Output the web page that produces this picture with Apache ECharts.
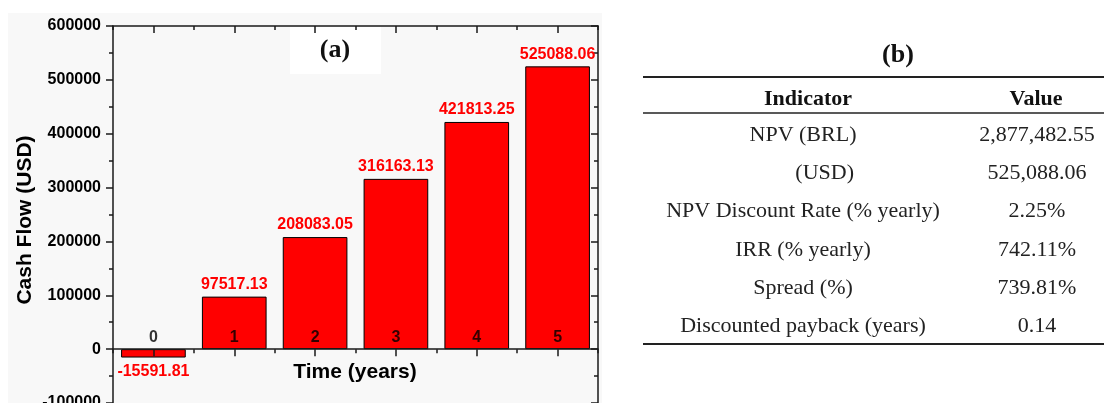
<!DOCTYPE html>
<html>
<head>
<meta charset="utf-8">
<script src="https://cdn.jsdelivr.net/npm/echarts@6/dist/echarts.min.js"></script>
<style>
html,body{margin:0;padding:0;background:#fff;}
#main{width:1104px;height:403px;}
</style>
</head>
<body>
<div id="main"></div>
<script>
// ---- data ----
const categories = ['0', '1', '2', '3', '4', '5'];
const cashFlow = [-15591.81, 97517.13, 208083.05, 316163.13, 421813.25, 525088.06];
const yMin = -100000;
const yMax = 600000;
const yInterval = 100000;
const xAxisTitle = 'Time (years)';
const yAxisTitle = 'Cash Flow (USD)';
const tableHeader = ['Indicator', 'Value'];
const indicators = ['NPV (BRL)', '(USD)', 'NPV Discount Rate (% yearly)', 'IRR (% yearly)', 'Spread (%)', 'Discounted payback (years)'];
const indicatorValues = ['2,877,482.55', '525,088.06', '2.25%', '742.11%', '739.81%', '0.14'];
const panelLabels = ['(a)', '(b)'];

// ---- chart ----
const chart = echarts.init(document.getElementById('main'), null, {renderer: 'canvas'});
const sans = 'Liberation Sans, Arial, sans-serif';
const serif = 'Liberation Serif, Times New Roman, serif';
const axisColor = '#1a1a1a';

function xAxisDef(pos, centered, extra) {
  return Object.assign({
    type: 'category',
    data: categories,
    position: pos,
    boundaryGap: true,
    axisLine: {show: true, onZero: pos === 'bottom', onZeroAxisIndex: 0, lineStyle: {color: axisColor, width: 1.5}},
    axisTick: {show: true, alignWithLabel: centered, inside: pos === 'top', length: centered ? 7 : 4, lineStyle: {color: axisColor, width: 1.5}},
    axisLabel: {show: false},
    splitLine: {show: false},
    z: 3
  }, extra || {});
}

const yCommon = {
  type: 'value', min: yMin, max: yMax, interval: yInterval,
  splitLine: {show: false}
};

const barData = cashFlow.map(v => ({
  value: v,
  label: {position: v < 0 ? 'bottom' : 'top', distance: v < 0 ? 6 : 4}
}));

const graphics = [
  {type: 'rect', shape: {x: 8, y: 13, width: 594, height: 400}, style: {fill: '#f8f8f8'}, z: -10},
  {type: 'rect', shape: {x: 290, y: 27, width: 91, height: 47}, style: {fill: '#ffffff'}, z: -5},
  {type: 'text', x: 335, y: 50, style: {text: panelLabels[0], font: 'bold 26px ' + serif, fill: '#111', align: 'center', verticalAlign: 'middle'}, z: 5},
  {type: 'text', x: 355, y: 372, style: {text: xAxisTitle, font: 'bold 21px ' + sans, fill: '#000', align: 'center', verticalAlign: 'middle'}, z: 5},
  {type: 'text', x: 25, y: 220, rotation: Math.PI / 2, style: {text: yAxisTitle, font: 'bold 21px ' + sans, fill: '#000', align: 'center', verticalAlign: 'middle'}, z: 5},
  {type: 'text', x: 898, y: 55, style: {text: panelLabels[1], font: 'bold 26px ' + serif, fill: '#111', align: 'center', verticalAlign: 'middle'}, z: 5},
  {type: 'line', shape: {x1: 643, y1: 77, x2: 1104, y2: 77}, style: {stroke: '#222', lineWidth: 2}},
  {type: 'line', shape: {x1: 643, y1: 113, x2: 1104, y2: 113}, style: {stroke: '#222', lineWidth: 1.5}},
  {type: 'line', shape: {x1: 643, y1: 344, x2: 1104, y2: 344}, style: {stroke: '#222', lineWidth: 2}},
  {type: 'text', x: 808, y: 99, style: {text: tableHeader[0], font: 'bold 22px ' + serif, fill: '#111', align: 'center', verticalAlign: 'middle'}},
  {type: 'text', x: 1036, y: 99, style: {text: tableHeader[1], font: 'bold 22px ' + serif, fill: '#111', align: 'center', verticalAlign: 'middle'}}
];
const rowY0 = 135, rowStep = 38.3;
indicators.forEach((name, i) => {
  const y = rowY0 + i * rowStep;
  const sub = name.charAt(0) === '(';
  graphics.push({type: 'text', x: sub ? 854 : 803, y: y,
    style: {text: name, font: '22px ' + serif, fill: '#222', align: sub ? 'right' : 'center', verticalAlign: 'middle'}});
  graphics.push({type: 'text', x: 1037, y: y,
    style: {text: indicatorValues[i], font: '22px ' + serif, fill: '#222', align: 'center', verticalAlign: 'middle'}});
});

const option = {
  animation: false,
  backgroundColor: '#ffffff',
  grid: {left: 113, right: 506, top: 26, bottom: 0, containLabel: false, outerBoundsMode: 'none'},
  xAxis: [
    xAxisDef('bottom', true),
    xAxisDef('bottom', false, {axisLine: {show: false, onZero: true, onZeroAxisIndex: 0}}),
    xAxisDef('top', true),
    xAxisDef('top', false, {axisLine: {show: false, onZero: false}})
  ],
  yAxis: [
    Object.assign({}, yCommon, {
      position: 'left',
      axisLine: {show: true, onZero: false, lineStyle: {color: axisColor, width: 1.5}},
      axisTick: {show: true, inside: false, length: 7, lineStyle: {color: axisColor, width: 1.5}},
      minorTick: {show: true, splitNumber: 2, length: 4, lineStyle: {color: axisColor, width: 1.5}},
      axisLabel: {color: '#000', fontFamily: sans, fontWeight: 'bold', fontSize: 16, margin: 12, formatter: v => String(v)}
    }),
    Object.assign({}, yCommon, {
      position: 'right',
      axisLine: {show: true, onZero: false, lineStyle: {color: axisColor, width: 1.5}},
      axisTick: {show: true, inside: true, length: 7, lineStyle: {color: axisColor, width: 1.5}},
      minorTick: {show: true, splitNumber: 2, length: 4, lineStyle: {color: axisColor, width: 1.5}},
      axisLabel: {show: false}
    })
  ],
  series: [{
    type: 'bar',
    xAxisIndex: 0,
    yAxisIndex: 0,
    data: barData,
    barWidth: '80%',
    itemStyle: {color: '#ff0000', borderColor: '#000', borderWidth: 1},
    label: {
      show: true,
      color: '#ff0000',
      fontFamily: sans,
      fontWeight: 'bold',
      fontSize: 16,
      formatter: p => p.value.toFixed(2)
    },
    z: 2
  }, {
    // category labels sitting just above the zero line
    type: 'scatter',
    xAxisIndex: 0,
    yAxisIndex: 0,
    data: categories.map(c => [c, 0]),
    symbolSize: 0,
    silent: true,
    label: {
      show: true,
      position: 'top',
      distance: 4,
      color: '#000',
      fontFamily: sans,
      fontWeight: 'bold',
      fontSize: 16,
      formatter: p => p.value[0]
    },
    z: 4
  }],
  graphic: graphics
};
chart.setOption(option);
</script>
</body>
</html>
